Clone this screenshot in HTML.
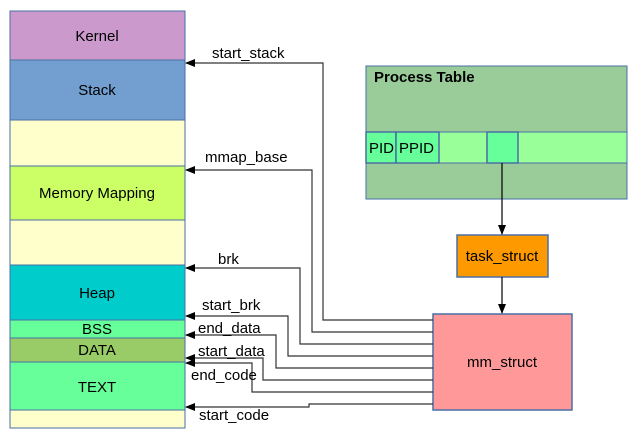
<!DOCTYPE html>
<html><head><style>
body{margin:0;background:#fff;width:641px;height:439px;overflow:hidden;font-family:"Liberation Sans",sans-serif;}
svg text{font-family:"Liberation Sans",sans-serif;font-size:15px;fill:#000}
</style></head><body>
<svg width="641" height="439" xmlns="http://www.w3.org/2000/svg">
<defs><marker id="a" markerWidth="10" markerHeight="8" refX="9" refY="4" orient="auto" markerUnits="userSpaceOnUse"><path d="M0,0 L10,4 L0,8 z" fill="#000"/></marker></defs>
<g stroke="#4a6fa5" stroke-width="1">
<rect x="10" y="11" width="175" height="49" fill="#cc99cc"/>
<rect x="10" y="60" width="175" height="60" fill="#729fcf"/>
<rect x="10" y="120" width="175" height="46" fill="#ffffcc"/>
<rect x="10" y="166" width="175" height="54" fill="#ccff66"/>
<rect x="10" y="220" width="175" height="45" fill="#ffffcc"/>
<rect x="10" y="265" width="175" height="55" fill="#00cccc"/>
<rect x="10" y="320" width="175" height="18" fill="#66ff99"/>
<rect x="10" y="338" width="175" height="24" fill="#99cc66"/>
<rect x="10" y="362" width="175" height="48" fill="#66ff99"/>
<rect x="10" y="410" width="175" height="18" fill="#ffffcc"/>
<rect x="366" y="66" width="261" height="133" fill="#99cc99"/>
<rect x="366" y="132" width="261" height="31" fill="#99ff99"/>
<rect x="366" y="132" width="30" height="31" fill="#66ff99" stroke-width="1.5"/>
<rect x="396" y="132" width="43" height="31" fill="#66ff99" stroke-width="1.5"/>
<rect x="487" y="132" width="31" height="31" fill="#66ff99" stroke-width="1.5"/>
<rect x="457" y="235" width="91" height="42" fill="#ff9900" stroke-width="1.5"/>
<rect x="433" y="314" width="139" height="96" fill="#ff9999" stroke-width="1.5"/>
</g>
<g text-anchor="middle">
<text x="97" y="41">Kernel</text><text x="97" y="95">Stack</text>
<text x="97" y="198">Memory Mapping</text><text x="97" y="298">Heap</text>
<text x="97" y="334">BSS</text><text x="97" y="355">DATA</text><text x="97" y="392">TEXT</text>
<text x="502" y="261">task_struct</text><text x="502" y="367">mm_struct</text>
</g>
<text x="374" y="82" style="font-weight:bold">Process Table</text>
<text x="369" y="153">PID</text><text x="399" y="153">PPID</text>
<g fill="none" stroke="#333" stroke-width="1.2" marker-end="url(#a)">
<path d="M433,320 H323 V63 H186"/>
<path d="M433,332 H312 V170 H186"/>
<path d="M433,344 H300 V268 H186"/>
<path d="M433,356 H288 V316 H186"/>
<path d="M433,368 H276 V335 H186"/>
<path d="M433,380 H263 V358 H186"/>
<path d="M433,392 H252 V363 H186"/>
<path d="M433,404 H309 V407 H186"/>
<path d="M502,163 V234" stroke="#000"/>
<path d="M502,277 V313" stroke="#000"/>
</g>
<text x="212" y="58">start_stack</text>
<text x="205" y="162">mmap_base</text>
<text x="218" y="264">brk</text>
<text x="202" y="310">start_brk</text>
<text x="198" y="333">end_data</text>
<text x="198" y="356">start_data</text>
<text x="191" y="380">end_code</text>
<text x="199" y="420">start_code</text>
</svg>
</body></html>
